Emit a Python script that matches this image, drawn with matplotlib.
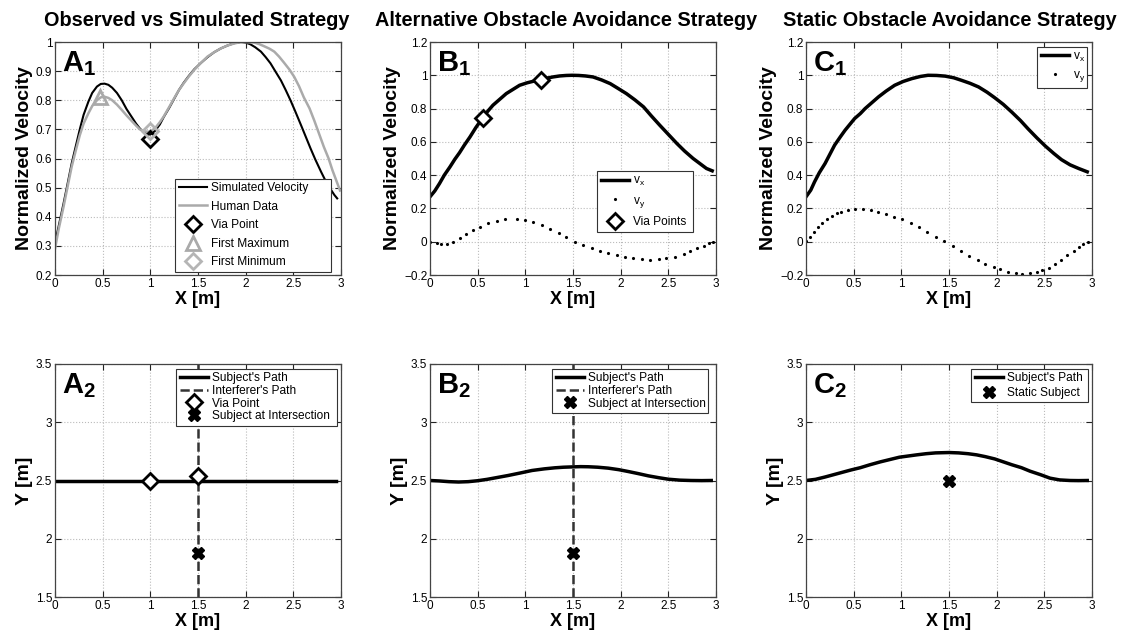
import numpy as np
import matplotlib
matplotlib.use('Agg')
import matplotlib.pyplot as plt

plt.rcParams['font.family'] = ['Liberation Sans', 'DejaVu Sans']
plt.rcParams['mathtext.fontset'] = 'custom'
plt.rcParams['mathtext.rm'] = 'Liberation Sans'
plt.rcParams['mathtext.bf'] = 'Liberation Sans:bold'

# ---- A1: observed vs simulated ----
a1_x_sim = [0, 0.04, 0.09, 0.13, 0.175, 0.22, 0.26, 0.30, 0.35, 0.39, 0.44, 0.48, 0.52, 0.56, 0.6,
            0.65, 0.7, 0.75, 0.81, 0.85, 0.89, 0.93, 0.97, 1.0, 1.05, 1.1, 1.14, 1.2, 1.25, 1.3, 1.35,
            1.4, 1.46, 1.53, 1.6, 1.67, 1.74, 1.81, 1.88, 1.95, 2.0, 2.05, 2.1, 2.16, 2.21, 2.26, 2.31,
            2.37, 2.42, 2.47, 2.52, 2.58, 2.63, 2.68, 2.73, 2.79, 2.84, 2.89, 2.93, 2.96]
a1_y_sim = [0.31, 0.37, 0.446, 0.51, 0.583, 0.645, 0.70, 0.75, 0.795, 0.825, 0.847, 0.856, 0.857, 0.853,
            0.843, 0.825, 0.80, 0.77, 0.74, 0.72, 0.703, 0.69, 0.683, 0.682, 0.695, 0.717, 0.742, 0.775,
            0.805, 0.835, 0.86, 0.882, 0.906, 0.928, 0.948, 0.965, 0.978, 0.988, 0.996, 1.0, 0.998, 0.992,
            0.982, 0.967, 0.948, 0.927, 0.90, 0.868, 0.835, 0.80, 0.762, 0.715, 0.675, 0.635, 0.597, 0.555,
            0.522, 0.495, 0.475, 0.463]
a1_x_hum = [0, 0.04, 0.09, 0.13, 0.175, 0.22, 0.26, 0.3, 0.35, 0.39, 0.44, 0.48, 0.52, 0.56, 0.6, 0.65,
            0.7, 0.75, 0.81, 0.85, 0.89, 0.93, 0.97, 1.0, 1.05, 1.1, 1.14, 1.2, 1.25, 1.3, 1.35, 1.4,
            1.46, 1.53, 1.6, 1.67, 1.74, 1.81, 1.88, 1.94, 1.98, 2.04, 2.09, 2.14, 2.19, 2.25, 2.3, 2.35,
            2.4, 2.46, 2.51, 2.56, 2.61, 2.67, 2.72, 2.77, 2.82, 2.87, 2.91, 2.95, 2.99]
a1_y_hum = [0.29, 0.36, 0.435, 0.50, 0.572, 0.63, 0.68, 0.72, 0.755, 0.78, 0.80, 0.81, 0.812, 0.808, 0.80,
            0.785, 0.767, 0.748, 0.727, 0.713, 0.70, 0.694, 0.692, 0.693, 0.704, 0.725, 0.744, 0.778,
            0.807, 0.835, 0.858, 0.88, 0.904, 0.928, 0.95, 0.965, 0.978, 0.988, 0.995, 0.999, 1.0, 0.999,
            0.998, 0.993, 0.986, 0.977, 0.967, 0.95, 0.93, 0.905, 0.88, 0.848, 0.81, 0.772, 0.73, 0.685,
            0.64, 0.6, 0.56, 0.525, 0.49]
a1_via = (1.0, 0.667)
a1_first_max = (0.47, 0.81)
a1_first_min = (1.0, 0.695)

# ---- B1: alternative strategy ----
b1_x_vx = [0, 0.05, 0.1, 0.15, 0.21, 0.26, 0.31, 0.36, 0.42, 0.48, 0.55, 0.6, 0.66, 0.73, 0.8, 0.87,
           0.94, 1.02, 1.09, 1.16, 1.22, 1.29, 1.36, 1.43, 1.49, 1.56, 1.63, 1.71, 1.8, 1.89, 1.97,
           2.06, 2.15, 2.24, 2.32, 2.41, 2.5, 2.59, 2.67, 2.76, 2.83, 2.9, 2.96]
b1_vx = [0.27, 0.305, 0.35, 0.40, 0.45, 0.495, 0.535, 0.58, 0.63, 0.685, 0.742, 0.78, 0.82, 0.855, 0.89,
         0.915, 0.94, 0.955, 0.965, 0.972, 0.982, 0.99, 0.996, 0.999, 1.0, 0.999, 0.996, 0.99, 0.972,
         0.95, 0.922, 0.89, 0.852, 0.81, 0.757, 0.70, 0.645, 0.59, 0.545, 0.50, 0.47, 0.44, 0.426]
b1_x_vy = [0, 0.07, 0.12, 0.18, 0.24, 0.31, 0.38, 0.45, 0.52, 0.61, 0.7, 0.79, 0.91, 1.0, 1.08, 1.17,
           1.26, 1.35, 1.43, 1.52, 1.61, 1.7, 1.78, 1.87, 1.96, 2.05, 2.13, 2.22, 2.31, 2.4, 2.48,
           2.57, 2.66, 2.73, 2.8, 2.87, 2.93, 2.97]
b1_vy = [0, -0.01, -0.016, -0.016, -0.004, 0.02, 0.046, 0.07, 0.09, 0.11, 0.124, 0.134, 0.138, 0.13,
         0.116, 0.098, 0.074, 0.05, 0.026, -0.002, -0.02, -0.038, -0.054, -0.07, -0.082, -0.092, -0.1,
         -0.106, -0.11, -0.106, -0.1, -0.09, -0.076, -0.058, -0.04, -0.024, -0.01, 0]
b1_via_x = [0.56, 1.16]
b1_via_y = [0.745, 0.972]

# ---- C1: static obstacle ----
c1_x_vx = [0, 0.05, 0.09, 0.14, 0.2, 0.25, 0.3, 0.36, 0.41, 0.46, 0.51, 0.57, 0.62, 0.69, 0.76, 0.84,
           0.93, 1.02, 1.11, 1.2, 1.28, 1.37, 1.46, 1.55, 1.63, 1.72, 1.81, 1.9, 1.98, 2.07, 2.16,
           2.25, 2.33, 2.42, 2.51, 2.6, 2.68, 2.77, 2.86, 2.95]
c1_vx = [0.27, 0.31, 0.36, 0.415, 0.47, 0.525, 0.58, 0.63, 0.67, 0.705, 0.74, 0.77, 0.80, 0.835, 0.87,
         0.905, 0.94, 0.963, 0.98, 0.993, 1.0, 0.999, 0.995, 0.985, 0.97, 0.952, 0.93, 0.898, 0.865,
         0.825, 0.778, 0.728, 0.678, 0.625, 0.575, 0.53, 0.493, 0.462, 0.44, 0.42]
c1_x_vy = [0, 0.04, 0.08, 0.13, 0.17, 0.22, 0.27, 0.32, 0.37, 0.44, 0.51, 0.6, 0.68, 0.76, 0.84, 0.92,
           1.01, 1.1, 1.19, 1.27, 1.36, 1.45, 1.54, 1.63, 1.71, 1.8, 1.88, 1.97, 2.04, 2.12, 2.2,
           2.27, 2.35, 2.42, 2.48, 2.55, 2.61, 2.68, 2.74, 2.81, 2.86, 2.91, 2.96]
c1_vy = [0.006, 0.03, 0.06, 0.09, 0.114, 0.136, 0.154, 0.17, 0.18, 0.19, 0.196, 0.196, 0.19, 0.18,
         0.164, 0.15, 0.134, 0.11, 0.086, 0.06, 0.03, 0.004, -0.026, -0.054, -0.084, -0.11, -0.136,
         -0.154, -0.164, -0.182, -0.188, -0.192, -0.19, -0.184, -0.172, -0.155, -0.135, -0.11, -0.082,
         -0.054, -0.032, -0.012, 0.0]

# ---- row 2: paths ----
a2_path_x = [0, 2.95]
a2_path_y = [2.5, 2.5]
a2_via_x = [1.0, 1.5]
a2_via_y = [2.5, 2.54]
interferer_x = [1.5, 1.5]
interferer_y = [1.5, 3.5]
intersection = (1.5, 1.875)

b2_path_x = [0, 0.1, 0.2, 0.3, 0.4, 0.5, 0.6, 0.7, 0.82, 0.95, 1.07, 1.2, 1.31, 1.4, 1.5, 1.58, 1.66,
             1.76, 1.87, 1.98, 2.08, 2.18, 2.29, 2.4, 2.5, 2.62, 2.74, 2.85, 2.95]
b2_path_y = [2.5, 2.496, 2.49, 2.487, 2.49, 2.498, 2.51, 2.525, 2.543, 2.565, 2.586, 2.6, 2.609, 2.614,
             2.617, 2.619, 2.618, 2.614, 2.606, 2.593, 2.577, 2.56, 2.54, 2.524, 2.511, 2.503, 2.5,
             2.499, 2.5]

c2_path_x = [0, 0.1, 0.2, 0.29, 0.38, 0.47, 0.57, 0.67, 0.78, 0.88, 0.98, 1.07, 1.16, 1.26, 1.36, 1.5,
             1.6, 1.7, 1.79, 1.88, 1.98, 2.07, 2.16, 2.26, 2.35, 2.46, 2.56, 2.66, 2.77, 2.86, 2.95]
c2_path_y = [2.5, 2.51, 2.53, 2.55, 2.57, 2.59, 2.61, 2.635, 2.66, 2.68, 2.7, 2.71, 2.72, 2.73, 2.737,
             2.74, 2.737, 2.73, 2.72, 2.705, 2.685, 2.66, 2.635, 2.61, 2.58, 2.55, 2.52, 2.505, 2.5,
             2.499, 2.5]
static_subject = (1.5, 2.5)

xticks = [0, 0.5, 1, 1.5, 2, 2.5, 3]
xticklabels = ['0', '0.5', '1', '1.5', '2', '2.5', '3']
vel_ticks1 = [0.2, 0.3, 0.4, 0.5, 0.6, 0.7, 0.8, 0.9, 1.0]
vel_labels1 = ['0.2', '0.3', '0.4', '0.5', '0.6', '0.7', '0.8', '0.9', '1']
vel_ticks2 = [-0.2, 0, 0.2, 0.4, 0.6, 0.8, 1.0, 1.2]
vel_labels2 = ['\u22120.2', '0', '0.2', '0.4', '0.6', '0.8', '1', '1.2']
path_ticks = [1.5, 2, 2.5, 3, 3.5]
path_labels = ['1.5', '2', '2.5', '3', '3.5']

fig = plt.figure(figsize=(11.25, 6.31), dpi=100)
lefts = [55 / 1125, 430 / 1125, 806 / 1125]
w = 286 / 1125
h = 233 / 631
bottoms = [1 - 275 / 631, 1 - 597 / 631]


def style(ax, yticks, yticklabels, ylim, ylabel, panel, sub):
    ax.set_xlim(0, 3)
    ax.set_ylim(*ylim)
    ax.set_xticks(xticks)
    ax.set_xticklabels(xticklabels)
    ax.set_yticks(yticks)
    ax.set_yticklabels(yticklabels)
    ax.tick_params(direction='in', length=4, width=0.8, top=True, right=True,
                   labelsize=8.5, pad=2, colors='#222222', labelcolor='black')
    ax.grid(True, linestyle=':', color='#bbbbbb', linewidth=0.8)
    for s in ax.spines.values():
        s.set_color('#444444')
        s.set_linewidth(0.9)
    ax.set_xlabel('X [m]', fontsize=13, fontweight='bold', labelpad=1)
    ax.set_ylabel(ylabel, fontsize=14, fontweight='bold', labelpad=2)
    ax.text(0.025, 0.97, r'$\mathbf{%s_%s}$' % (panel, sub), transform=ax.transAxes,
            fontsize=21, va='top', ha='left')


# legend box given as (left, bottom, right, top) in axes fraction, MATLAB-like padding on the right
def leg(ax, spacing, box, loc):
    x0, y0, x1, y1 = box
    l = ax.legend(fontsize=8.6, fancybox=False, framealpha=1, edgecolor='#333333',
                  borderpad=0.3, labelspacing=spacing, handletextpad=0.3, borderaxespad=0,
                  handlelength=2.4, loc=loc, bbox_to_anchor=(x0, y0, x1 - x0, y1 - y0),
                  mode='expand')
    l.get_frame().set_linewidth(0.8)
    return l


# A1
ax = fig.add_axes([lefts[0], bottoms[0], w, h])
ax.plot(a1_x_sim, a1_y_sim, color='black', lw=1.5, label='Simulated Velocity')
ax.plot(a1_x_hum, a1_y_hum, color='#aaaaaa', lw=1.8, label='Human Data')
ax.plot(*a1_via, 'D', ms=8, mfc='none', mec='black', mew=2, label='Via Point')
ax.plot(*a1_first_max, '^', ms=10, mfc='none', mec='#aaaaaa', mew=2, label='First Maximum')
ax.plot(*a1_first_min, 'D', ms=8, mfc='none', mec='#b5b5b5', mew=2, label='First Minimum')
style(ax, vel_ticks1, vel_labels1, (0.2, 1.0), 'Normalized Velocity', 'A', '1')
leg(ax, 0.55, (0.42, 0.013, 0.965, 0.5), 'lower right')

# B1
ax = fig.add_axes([lefts[1], bottoms[0], w, h])
ax.plot(b1_x_vx, b1_vx, color='black', lw=2.5, label=r'v$_\mathrm{x}$')
ax.plot(b1_x_vy, b1_vy, '.', color='black', ms=2.5, label=r'v$_\mathrm{y}$')
ax.plot(b1_via_x, b1_via_y, 'D', ms=8, mfc='white', mec='black', mew=2, label='Via Points')
style(ax, vel_ticks2, vel_labels2, (-0.2, 1.2), 'Normalized Velocity', 'B', '1')
leg(ax, 0.55, (0.584, 0.185, 0.92, 0.6), 'lower right')

# C1
ax = fig.add_axes([lefts[2], bottoms[0], w, h])
ax.plot(c1_x_vx, c1_vx, color='black', lw=2.5, label=r'v$_\mathrm{x}$')
ax.plot(c1_x_vy, c1_vy, '.', color='black', ms=2.5, label=r'v$_\mathrm{y}$')
style(ax, vel_ticks2, vel_labels2, (-0.2, 1.2), 'Normalized Velocity', 'C', '1')
leg(ax, 0.45, (0.808, 0.5, 0.983, 0.979), 'upper right')

# A2
ax = fig.add_axes([lefts[0], bottoms[1], w, h])
ax.plot(a2_path_x, a2_path_y, color='black', lw=2.5, label="Subject's Path")
ax.plot(interferer_x, interferer_y, '--', color='#333333', lw=1.8, label="Interferer's Path")
ax.plot(a2_via_x, a2_via_y, 'D', ms=8, mfc='white', mec='black', mew=2, label='Via Point')
ax.plot(*intersection, 'X', ms=8, color='black', mec='black', label='Subject at Intersection')
style(ax, path_ticks, path_labels, (1.5, 3.5), 'Y [m]', 'A', '2')
leg(ax, 0.05, (0.423, 0.5, 0.986, 0.979), 'upper right')

# B2
ax = fig.add_axes([lefts[1], bottoms[1], w, h])
ax.plot(b2_path_x, b2_path_y, color='black', lw=2.5, label="Subject's Path")
ax.plot(interferer_x, interferer_y, '--', color='#333333', lw=1.8, label="Interferer's Path")
ax.plot(*intersection, 'X', ms=8, color='black', mec='black', label='Subject at Intersection')
style(ax, path_ticks, path_labels, (1.5, 3.5), 'Y [m]', 'B', '2')
leg(ax, 0.05, (0.427, 0.5, 0.972, 0.979), 'upper right')

# C2
ax = fig.add_axes([lefts[2], bottoms[1], w, h])
ax.plot(c2_path_x, c2_path_y, color='black', lw=2.5, label="Subject's Path")
ax.plot(*static_subject, 'X', ms=8, color='black', mec='black', label='Static Subject')
style(ax, path_ticks, path_labels, (1.5, 3.5), 'Y [m]', 'C', '2')
leg(ax, 0.2, (0.577, 0.5, 0.986, 0.979), 'upper right')

# column titles
for cx, title in [(197, 'Observed vs Simulated Strategy'),
                  (566, 'Alternative Obstacle Avoidance Strategy'),
                  (950, 'Static Obstacle Avoidance Strategy')]:
    fig.text(cx / 1125, 1 - 21 / 631, title, fontsize=14.3, fontweight='bold',
             ha='center', va='center')

fig.savefig('out.png', dpi=100)
